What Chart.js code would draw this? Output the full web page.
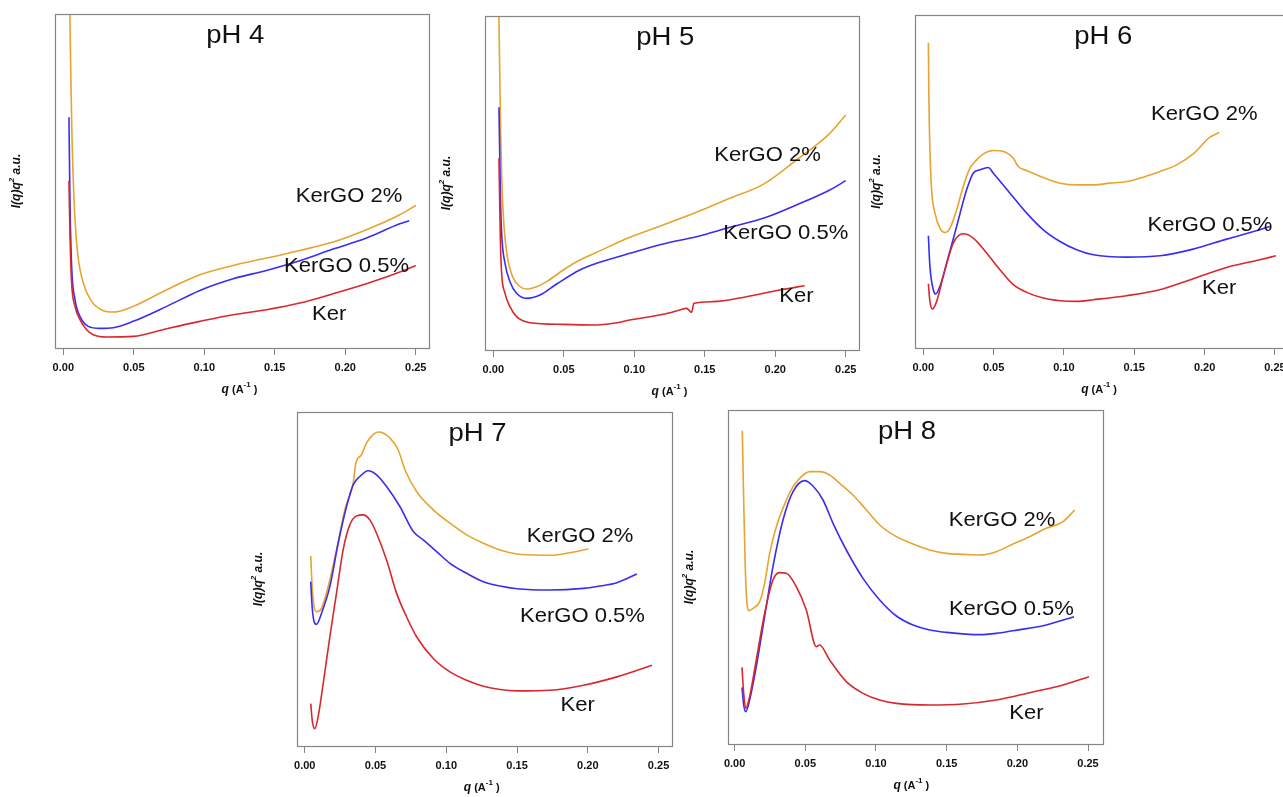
<!DOCTYPE html>
<html>
<head>
<meta charset="utf-8">
<title>SAXS Kratky plots</title>
<script src="https://cdn.jsdelivr.net/npm/chart.js@4.4.1/dist/chart.umd.min.js"></script>
<style>
  html, body { margin: 0; padding: 0; background: #fff; }
  body { position: relative; width: 1283px; height: 797px; overflow: hidden; }
  canvas.panel { position: absolute; }
</style>
</head>
<body>
<script>
// q (A^-1) on x, I(q)q^2 in arbitrary units on y
const xTicks = [0, 0.05, 0.10, 0.15, 0.20, 0.25];
const seriesNames = ['Ker', 'KerGO 0.5%', 'KerGO 2%'];

// pH 4
const ph4Ker = [[0.0040,50.2],[0.0047,34.5],[0.0059,19.5],[0.0083,12.5],[0.0118,8.5],[0.0165,5.5],[0.0213,4.0],[0.0307,3.3],[0.0496,3.5],[0.0733,5.8],[0.0969,8.0],[0.1205,10.0],[0.1441,11.5],[0.1678,13.5],[0.1914,16.3],[0.2150,19.3],[0.2387,22.8],[0.2500,24.8]];
const ph4Go05 = [[0.0040,69.3],[0.0047,44.5],[0.0059,24.5],[0.0083,14.5],[0.0118,9.5],[0.0177,6.5],[0.0260,5.9],[0.0354,6.1],[0.0496,8.0],[0.0733,12.5],[0.0969,17.3],[0.1205,20.8],[0.1441,23.3],[0.1678,26.2],[0.1914,29.7],[0.2150,33.0],[0.2387,37.3],[0.2453,38.2]];
const ph4Go2 = [[0.0045,104.5],[0.0052,84.5],[0.0061,64.5],[0.0076,44.5],[0.0099,29.5],[0.0142,19.5],[0.0201,14.0],[0.0284,11.2],[0.0354,10.8],[0.0496,12.5],[0.0733,17.5],[0.0969,22.0],[0.1205,24.8],[0.1441,27.0],[0.1678,29.3],[0.1914,31.8],[0.2150,35.5],[0.2387,40.0],[0.2500,42.8]];

// pH 5
const ph5Ker = [[0.0040,57.5],[0.0045,45.0],[0.0050,33.0],[0.0059,23.0],[0.0083,17.0],[0.0118,13.0],[0.0165,10.0],[0.0260,8.2],[0.0496,7.7],[0.0733,7.5],[0.0851,8.0],[0.0969,9.0],[0.1205,10.7],[0.1323,12.0],[0.1371,12.5],[0.1406,11.3],[0.1423,14.0],[0.1560,14.5],[0.1796,16.0],[0.2032,18.0],[0.2209,19.3]];
const ph5Go05 = [[0.0040,72.8],[0.0045,60.0],[0.0050,47.0],[0.0059,35.0],[0.0083,26.0],[0.0118,20.5],[0.0165,17.0],[0.0236,15.5],[0.0331,16.5],[0.0449,19.8],[0.0614,24.0],[0.0733,26.0],[0.0969,29.0],[0.1205,31.8],[0.1441,34.0],[0.1678,36.8],[0.1914,39.5],[0.2150,43.5],[0.2387,48.0],[0.2500,50.8]];
const ph5Go2 = [[0.0038,105.0],[0.0045,85.0],[0.0052,65.0],[0.0061,50.0],[0.0076,37.0],[0.0099,28.0],[0.0137,22.0],[0.0184,19.2],[0.0236,18.3],[0.0307,19.0],[0.0378,20.5],[0.0496,24.0],[0.0614,27.0],[0.0733,29.3],[0.0969,33.8],[0.1205,37.5],[0.1441,41.3],[0.1678,45.5],[0.1914,49.7],[0.2150,57.0],[0.2387,65.0],[0.2500,70.5]];

// pH 6
const ph6Ker = [[0.0036,19.3],[0.0047,14.0],[0.0066,11.7],[0.0095,14.0],[0.0142,21.5],[0.0213,31.5],[0.0284,34.3],[0.0355,33.0],[0.0450,28.5],[0.0545,23.5],[0.0640,19.0],[0.0735,16.7],[0.0853,15.0],[0.0972,14.2],[0.1090,14.0],[0.1209,14.5],[0.1445,15.7],[0.1682,17.5],[0.1919,20.8],[0.2156,24.2],[0.2393,26.5],[0.2507,27.7]];
const ph6Go05 = [[0.0036,33.7],[0.0047,24.5],[0.0071,17.5],[0.0088,16.2],[0.0118,18.5],[0.0166,25.5],[0.0237,36.5],[0.0308,47.5],[0.0355,52.5],[0.0403,53.5],[0.0462,54.2],[0.0498,52.5],[0.0616,46.5],[0.0735,40.5],[0.0853,35.5],[0.0972,32.0],[0.1090,29.5],[0.1209,28.0],[0.1445,27.3],[0.1682,27.7],[0.1919,29.7],[0.2156,32.7],[0.2393,35.5],[0.2464,36.5]];
const ph6Go2 = [[0.0036,91.7],[0.0040,74.5],[0.0047,59.5],[0.0059,47.5],[0.0083,40.5],[0.0118,36.0],[0.0154,34.7],[0.0190,36.0],[0.0237,41.5],[0.0284,48.5],[0.0332,54.0],[0.0379,56.5],[0.0427,58.3],[0.0498,59.3],[0.0569,59.0],[0.0640,57.0],[0.0675,54.5],[0.0735,53.3],[0.0853,51.2],[0.0972,49.5],[0.1090,49.0],[0.1209,49.0],[0.1327,49.5],[0.1445,50.0],[0.1564,51.3],[0.1682,53.0],[0.1801,55.0],[0.1919,58.3],[0.2038,63.3],[0.2104,64.7]];

// pH 7
const ph7Ker = [[0.0042,12.7],[0.0054,7.2],[0.0071,5.2],[0.0094,8.7],[0.0130,18.7],[0.0177,32.7],[0.0224,45.7],[0.0271,58.7],[0.0318,66.2],[0.0366,68.9],[0.0413,69.2],[0.0460,67.7],[0.0507,63.7],[0.0578,55.7],[0.0649,45.7],[0.0719,38.7],[0.0790,32.7],[0.0908,26.2],[0.1026,22.2],[0.1144,19.7],[0.1262,17.9],[0.1380,16.9],[0.1498,16.5],[0.1733,16.7],[0.1969,18.2],[0.2205,20.7],[0.2453,24.2]];
const ph7Go05 = [[0.0042,49.2],[0.0052,41.7],[0.0066,37.2],[0.0083,36.4],[0.0118,39.7],[0.0177,47.7],[0.0236,60.7],[0.0295,71.7],[0.0342,78.2],[0.0389,80.7],[0.0448,82.4],[0.0507,81.2],[0.0578,77.7],[0.0672,71.7],[0.0767,64.2],[0.0837,61.7],[0.0932,58.2],[0.1026,54.7],[0.1144,51.7],[0.1262,49.2],[0.1380,47.9],[0.1498,47.1],[0.1733,46.7],[0.1969,47.2],[0.2087,47.9],[0.2205,48.9],[0.2347,51.5]];
const ph7Go2 = [[0.0042,56.9],[0.0052,47.7],[0.0066,41.7],[0.0083,40.2],[0.0118,41.2],[0.0165,47.7],[0.0224,58.7],[0.0283,70.7],[0.0342,78.7],[0.0361,84.7],[0.0401,87.2],[0.0436,90.7],[0.0483,93.2],[0.0519,94.0],[0.0554,93.7],[0.0601,92.2],[0.0660,88.7],[0.0708,82.7],[0.0790,76.2],[0.0908,70.7],[0.1026,66.7],[0.1144,63.2],[0.1262,60.7],[0.1380,58.7],[0.1498,57.5],[0.1616,57.2],[0.1733,57.1],[0.1851,57.7],[0.2005,59.0]];

// pH 8
const ph8Ker = [[0.0052,23.0],[0.0064,15.2],[0.0078,10.7],[0.0106,14.2],[0.0153,25.2],[0.0212,39.2],[0.0271,49.2],[0.0318,51.4],[0.0366,51.2],[0.0436,47.2],[0.0507,40.2],[0.0578,29.2],[0.0601,29.7],[0.0672,25.2],[0.0790,18.7],[0.0908,15.2],[0.1026,13.2],[0.1144,12.2],[0.1380,11.7],[0.1616,12.0],[0.1851,13.2],[0.2087,15.4],[0.2323,17.7],[0.2507,20.2]];
const ph8Go05 = [[0.0052,17.0],[0.0064,11.7],[0.0078,9.7],[0.0106,13.2],[0.0153,23.2],[0.0212,38.2],[0.0271,53.2],[0.0342,67.2],[0.0413,75.7],[0.0495,79.0],[0.0554,77.4],[0.0625,73.2],[0.0696,66.2],[0.0790,58.2],[0.0908,49.7],[0.1026,43.2],[0.1144,38.4],[0.1262,35.7],[0.1380,34.2],[0.1498,33.5],[0.1733,32.8],[0.1851,33.2],[0.1969,34.0],[0.2205,35.7],[0.2401,38.2]];
const ph8Go2 = [[0.0054,94.0],[0.0064,73.2],[0.0075,53.2],[0.0090,41.2],[0.0101,40.0],[0.0130,40.7],[0.0177,42.7],[0.0212,48.2],[0.0248,57.2],[0.0295,65.2],[0.0366,73.2],[0.0413,77.2],[0.0460,79.7],[0.0531,81.7],[0.0601,81.7],[0.0672,80.7],[0.0743,78.2],[0.0837,74.7],[0.0932,70.2],[0.1026,65.7],[0.1144,62.2],[0.1262,60.0],[0.1380,58.2],[0.1498,57.2],[0.1616,56.9],[0.1733,56.7],[0.1851,57.7],[0.1969,60.0],[0.2087,62.2],[0.2205,64.7],[0.2323,66.7],[0.2406,70.2]];

const FONT = '"Liberation Sans", Arial, Helvetica, sans-serif';
const seriesColors = ['#d8282d', '#3a2cf2', '#e8a330'];
const padL = 52, padT = 4, padR = 4, xH = 50;

// box = plot frame in page pixels; labels placed in data units
const panels = [
  { title: 'pH 4', box: [55, 14, 429, 348], xMin: -0.0059, xMax: 0.2594, yMax: 100.3, titleQ: 0.122,
    series: [ph4Ker, ph4Go05, ph4Go2], labels: [[0.1886, 10.0], [0.2009, 24.5], [0.2027, 45.5]] },
  { title: 'pH 5', box: [485, 16, 859, 350], xMin: -0.0059, xMax: 0.2594, yMax: 100.2, titleQ: 0.122,
    series: [ph5Ker, ph5Go05, ph5Go2], labels: [[0.2150, 16.0], [0.2075, 35.0], [0.1945, 58.5]] },
  { title: 'pH 6', box: [915, 15, 1289, 348], xMin: -0.0059, xMax: 0.2600, yMax: 100.0, titleQ: 0.128,
    series: [ph6Ker, ph6Go05, ph6Go2], labels: [[0.2104, 18.0], [0.2038, 37.0], [0.1998, 70.2]] },
  { title: 'pH 7', box: [297, 412, 672, 746], xMin: -0.0055, xMax: 0.2595, yMax: 100.0, titleQ: 0.122,
    series: [ph7Ker, ph7Go05, ph7Go2], labels: [[0.1929, 12.2], [0.1962, 38.9], [0.1946, 62.9]] },
  { title: 'pH 8', box: [728, 410, 1103, 744], xMin: -0.0047, xMax: 0.2606, yMax: 100.2, titleQ: 0.122,
    series: [ph8Ker, ph8Go05, ph8Go2], labels: [[0.2064, 9.2], [0.1958, 40.4], [0.1892, 67.2]] }
];

function drawRuns(ctx, runs, x, y, align) {
  let total = 0;
  runs.forEach(r => { ctx.font = r.f; r.w = ctx.measureText(r.t).width; total += r.w; });
  let cx = align === 'center' ? x - total / 2 : x;
  runs.forEach(r => { ctx.font = r.f; ctx.fillText(r.t, cx, y + (r.dy || 0)); cx += r.w; });
}

const decor = {
  id: 'decor',
  afterDatasetsDraw(chart, args, opts) {
    const { ctx, chartArea: a, scales: { x, y } } = chart;
    ctx.save();
    // frame
    ctx.strokeStyle = '#858585';
    ctx.lineWidth = 1.2;
    ctx.strokeRect(a.left + 0.5, a.top + 0.5, a.right - a.left, a.bottom - a.top);

    ctx.fillStyle = '#111';
    ctx.textBaseline = 'middle';
    ctx.textAlign = 'center';
    // panel title
    ctx.save();
    ctx.translate(x.getPixelForValue(opts.titleQ), a.top + 22);
    ctx.scale(1.1, 1);
    ctx.font = '25px ' + FONT;
    ctx.fillText(opts.title, 0, 0);
    ctx.restore();

    // series labels
    opts.labels.forEach((l, i) => {
      ctx.save();
      ctx.translate(x.getPixelForValue(l[0]), y.getPixelForValue(l[1]));
      ctx.scale(1.05, 1);
      ctx.font = '21px ' + FONT;
      ctx.fillText(seriesNames[i], 0, 0);
      ctx.restore();
    });

    // x axis title
    ctx.textAlign = 'left';
    const xc = (x.getPixelForValue(0) + x.getPixelForValue(0.25)) / 2;
    drawRuns(ctx, [
      { t: 'q', f: 'italic bold 12px ' + FONT },
      { t: ' (A', f: 'bold 11px ' + FONT },
      { t: '-1', f: 'bold 8px ' + FONT, dy: -5 },
      { t: ' )', f: 'bold 11px ' + FONT }
    ], xc, a.bottom + 42, 'center');

    // y axis title
    ctx.save();
    ctx.translate(a.left - 38, (a.top + a.bottom) / 2);
    ctx.rotate(-Math.PI / 2);
    drawRuns(ctx, [
      { t: 'I(q)q', f: 'italic bold 12px ' + FONT },
      { t: '2', f: 'italic bold 8px ' + FONT, dy: -5 },
      { t: ' a.u.', f: 'italic bold 12px ' + FONT }
    ], 0, 0, 'center');
    ctx.restore();
    ctx.restore();
  }
};

panels.forEach(p => {
  const [l, t, r, b] = p.box;
  const canvas = document.createElement('canvas');
  canvas.className = 'panel';
  canvas.width = (r - l) + padL + padR;
  canvas.height = (b - t) + padT + xH;
  canvas.style.left = (l - padL) + 'px';
  canvas.style.top = (t - padT) + 'px';
  document.body.appendChild(canvas);

  new Chart(canvas.getContext('2d'), {
    type: 'line',
    data: {
      datasets: p.series.map((s, i) => ({
        label: seriesNames[i],
        data: s.map(([q, v]) => ({ x: q, y: v })),
        borderColor: seriesColors[i],
        borderWidth: 1.6,
        borderJoinStyle: 'round',
        pointRadius: 0,
        cubicInterpolationMode: 'monotone',
        fill: false
      }))
    },
    options: {
      responsive: false,
      animation: false,
      devicePixelRatio: 1,
      layout: { padding: { left: padL, top: padT, right: padR, bottom: 0 } },
      plugins: {
        legend: { display: false },
        tooltip: { enabled: false },
        decor: { title: p.title, titleQ: p.titleQ, labels: p.labels }
      },
      scales: {
        x: {
          type: 'linear',
          min: p.xMin,
          max: p.xMax,
          afterBuildTicks: s => { s.ticks = xTicks.map(v => ({ value: v })); },
          afterFit: s => { s.height = xH; },
          grid: { drawOnChartArea: false, drawTicks: true, tickLength: 7, color: '#858585', lineWidth: 1 },
          border: { display: false },
          ticks: {
            padding: 6,
            color: '#111',
            maxRotation: 0,
            autoSkip: false,
            font: { family: FONT, size: 11, weight: 'bold' },
            callback: v => v.toFixed(2)
          }
        },
        y: { display: false, min: 0, max: p.yMax }
      }
    },
    plugins: [decor]
  });
});
</script>
</body>
</html>
